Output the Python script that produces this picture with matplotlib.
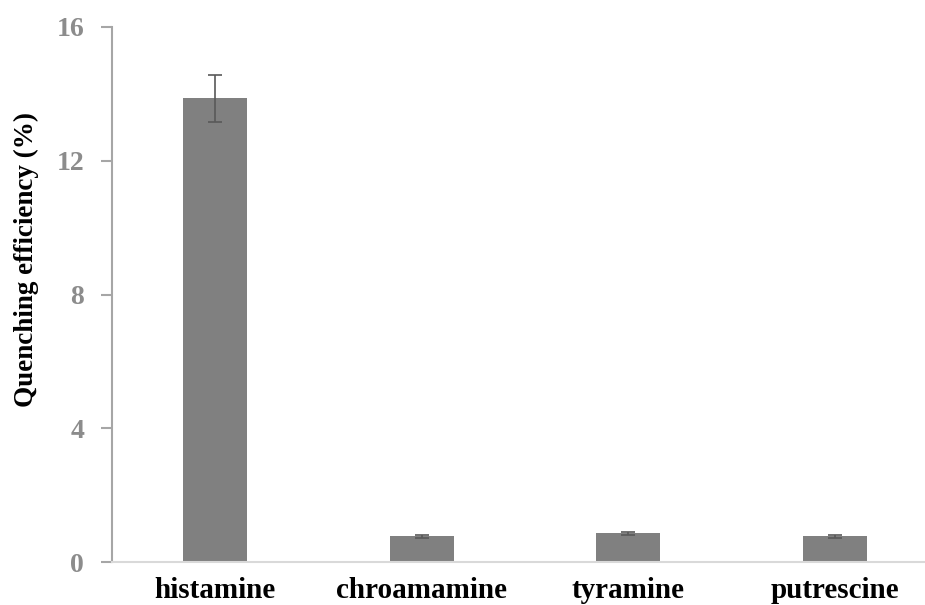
import matplotlib
matplotlib.use('Agg')
import matplotlib.pyplot as plt
import numpy as np

amines = ['histamine', 'chroamamine', 'tyramine', 'putrescine']
efficiency = [13.87, 0.77, 0.86, 0.77]
errors = [0.70, 0.04, 0.04, 0.04]
yticks = [0, 4, 8, 12, 16]

plt.rcParams['font.family'] = ['Liberation Serif', 'DejaVu Serif']

fig = plt.figure(figsize=(9.25, 6.05), dpi=100)
ax = fig.add_axes([112 / 925, 43 / 605, 813 / 925, 535 / 605])

x = np.arange(len(amines))
ax.bar(x, efficiency, width=0.31, color='#808080', zorder=2)
ax.errorbar(x, efficiency, yerr=errors, fmt='none', ecolor='#595959',
            elinewidth=1.2, capsize=5, capthick=1.2, zorder=3)

ax.set_xlim(-0.5, 3.437)
ax.set_ylim(0, 16)
ax.set_yticks(yticks)
ax.set_yticklabels([str(t) for t in yticks], fontsize=20, fontweight='bold',
                   color='#8c8c8c')
ax.set_xticks(x)
ax.set_xticklabels(amines, fontsize=21, fontweight='bold', color='black')
ax.tick_params(axis='x', length=0, pad=11)
ax.tick_params(axis='y', length=8, width=1.5, color='#a6a6a6', pad=12)

for side in ['top', 'right']:
    ax.spines[side].set_visible(False)
ax.spines['left'].set_color('#a6a6a6')
ax.spines['left'].set_linewidth(1.5)
ax.spines['bottom'].set_color('#d9d9d9')
ax.spines['bottom'].set_linewidth(1.5)

ax.set_ylabel('Quenching efficiency (%)', fontsize=19.5, fontweight='bold')
ax.yaxis.set_label_coords(-0.09, 0.566)

fig.savefig('out.png', dpi=100)
